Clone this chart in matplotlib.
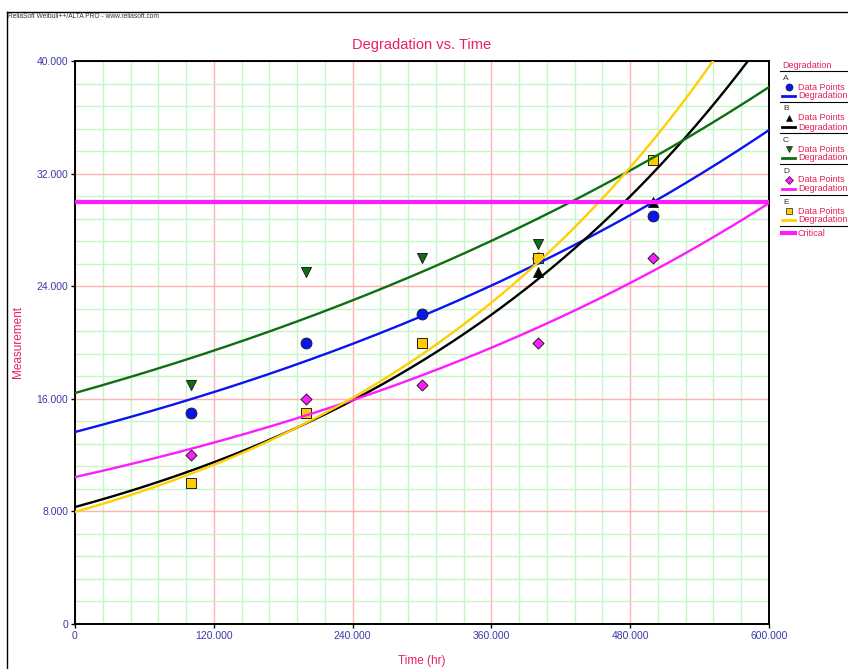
import numpy as np
import matplotlib
matplotlib.use("Agg")
import matplotlib.pyplot as plt
from matplotlib.lines import Line2D
from matplotlib.ticker import MultipleLocator, FixedLocator

plt.rcParams['font.family'] = ['Liberation Sans', 'DejaVu Sans']

# ---- data ----
times = [100, 200, 300, 400, 500]
series_names = ["A", "B", "C", "D", "E"]
A_vals = [15, 20, 22, 26, 29]
B_vals = [10, 15, 20, 25, 30]
C_vals = [17, 25, 26, 27, 33]
D_vals = [12, 16, 17, 20, 26]
E_vals = [10, 15, 20, 26, 33]
# exponential degradation model y = a*exp(b*t), parameters
curve_a = [13.64, 8.31, 16.41, 10.44, 7.96]
curve_b = [0.001575, 0.002701, 0.001406, 0.001754, 0.002927]
critical = 30.0
x_ticks = [0, 120, 240, 360, 480, 600]
x_tick_labels = ["0", "120.000", "240.000", "360.000", "480.000", "600.000"]
y_ticks = [0, 8, 16, 24, 32, 40]
y_tick_labels = ["0", "8.000", "16.000", "24.000", "32.000", "40.000"]

values = [A_vals, B_vals, C_vals, D_vals, E_vals]
line_colors = ["#0a14f0", "#000000", "#0e6e12", "#ff1aff", "#ffd000"]
marker_faces = ["#0a14f0", "#000000", "#0e6e12", "#ff1aff", "#ffcc00"]
markers = ["o", "^", "v", "D", "s"]
msizes = [7.8, 7.2, 7.2, 5.6, 7.4]

RED = "#e8215a"
TICKC = "#3a3aa6"

fig = plt.figure(figsize=(8.48, 6.69), dpi=100)
ax = fig.add_axes([75/848, 1-624/669, 694/848, 563/669])

ax.set_xlim(0, 600)
ax.set_ylim(0, 40)
ax.xaxis.set_major_locator(FixedLocator(x_ticks))
ax.yaxis.set_major_locator(FixedLocator(y_ticks))
ax.set_xticklabels(x_tick_labels)
ax.set_yticklabels(y_tick_labels)
ax.xaxis.set_minor_locator(MultipleLocator(24))
ax.yaxis.set_minor_locator(MultipleLocator(1.6))
ax.grid(which="minor", color="#c6f5c6", linewidth=1.0, zorder=0)
ax.grid(which="major", color="#ffb0b0", linewidth=1.0, zorder=0)
ax.set_axisbelow(True)
ax.tick_params(which="major", length=3, width=1, colors="black",
               labelcolor=TICKC, labelsize=7.5, pad=2)
ax.tick_params(which="minor", length=0)
for sp in ax.spines.values():
    sp.set_linewidth(1.4)

t = np.linspace(0, 600, 400)
for i in range(5):
    ax.scatter(times, values[i], marker=markers[i], s=msizes[i]**2,
               facecolor=marker_faces[i], edgecolor="#202020", linewidths=0.7,
               zorder=3 + i * 0.1)
for i in range(5):
    ax.plot(t, curve_a[i] * np.exp(curve_b[i] * t), color=line_colors[i],
            linewidth=1.7, zorder=4)
ax.axhline(critical, color="#ff1aff", linewidth=3.0, zorder=5)

ax.set_title("Degradation vs. Time", color=RED, fontsize=10.5, pad=9)
ax.set_xlabel("Time (hr)", color=RED, fontsize=8.5, labelpad=10)
ax.set_ylabel("Measurement", color=RED, fontsize=8.5, labelpad=9)

# header and frame
fig.text(8/848, 1-17/669, "ReliaSoft Weibull++/ALTA PRO - www.reliasoft.com",
         fontsize=4.8, color="#333333", va="center", ha="left")
fig.add_artist(Line2D([7/848, 1], [1-12/669, 1-12/669], color="black",
                      linewidth=1.0, transform=fig.transFigure))
fig.add_artist(Line2D([7/848, 7/848], [0, 1-12/669], color="black",
                      linewidth=1.0, transform=fig.transFigure))

# custom legend panel
def fx(px):
    return px / 848
def fy(py):
    return 1 - py / 669

fig.text(fx(782), fy(65), "Degradation", color=RED, fontsize=6.5, va="center")
fig.add_artist(Line2D([fx(780), fx(848)], [fy(71), fy(71)], color="black",
                      linewidth=0.8, transform=fig.transFigure))
y0 = 78
step = 31
for i, name in enumerate(series_names):
    yb = y0 + i * step
    fig.text(fx(783), fy(yb), name, color="#333333", fontsize=6, va="center")
    fig.add_artist(Line2D([fx(789)], [fy(yb + 9)], marker=markers[i],
                          markersize=msizes[i] * 0.65, markerfacecolor=marker_faces[i],
                          markeredgecolor="#202020", markeredgewidth=0.5,
                          linestyle="none", transform=fig.transFigure))
    fig.text(fx(798), fy(yb + 9), "Data Points", color=RED, fontsize=6.5, va="center")
    fig.add_artist(Line2D([fx(782), fx(795)], [fy(yb + 18), fy(yb + 18)],
                          color=line_colors[i], linewidth=2.0,
                          transform=fig.transFigure))
    fig.text(fx(798), fy(yb + 18), "Degradation", color=RED, fontsize=6.5, va="center")
    fig.add_artist(Line2D([fx(780), fx(848)], [fy(yb + 24), fy(yb + 24)],
                          color="black", linewidth=0.8, transform=fig.transFigure))
fig.add_artist(Line2D([fx(782), fx(795)], [fy(233), fy(233)],
                      color="#ff1aff", linewidth=3.0, transform=fig.transFigure))
fig.text(fx(798), fy(233), "Critical", color=RED, fontsize=6.5, va="center")

fig.savefig("out.png", dpi=100)
